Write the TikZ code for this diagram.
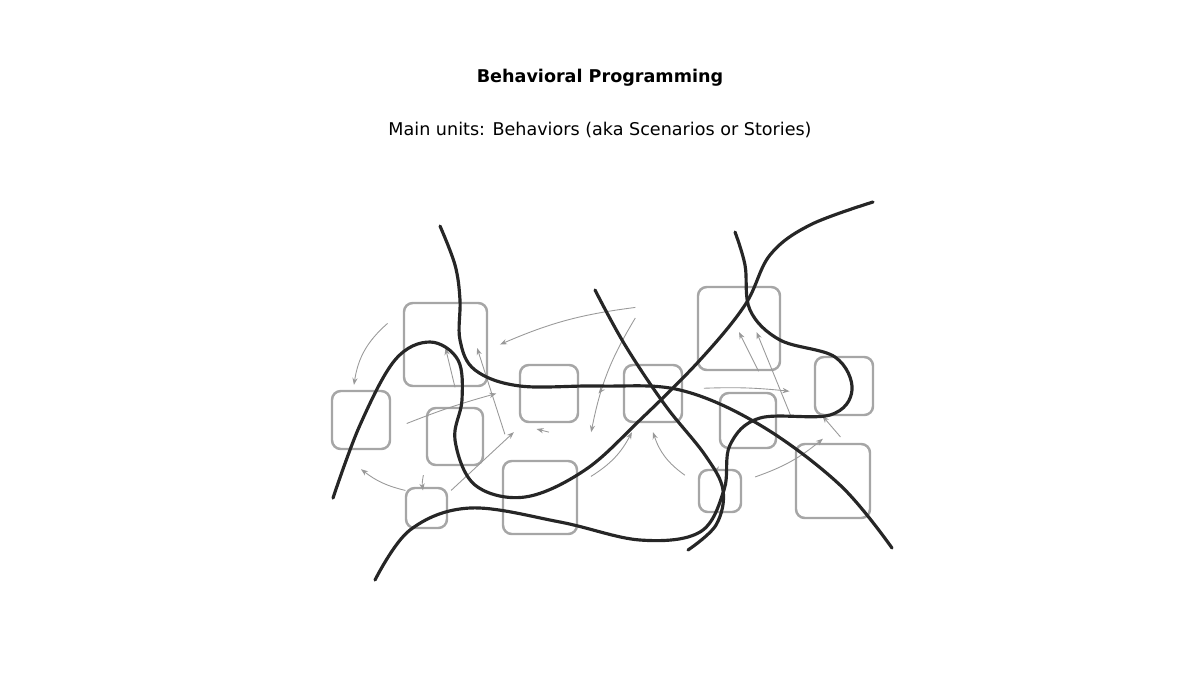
\documentclass[tikz,border=0pt]{standalone}
\usepackage{fontspec}
\setmainfont{DejaVu Sans}
\usetikzlibrary{arrows.meta}
\tikzset{unit/.style = {draw=black!35, line width=1.4pt, rounded corners=5pt},
         link/.style = {draw=black!40, line width=0.5pt, -{Stealth[length=4pt,width=3pt]}},
         story/.style = {draw=black!85, line width=1.8pt, line cap=round}}

\begin{document}
\begin{tikzpicture}[x=0.02cm, y=-0.02cm]
    \useasboundingbox (0,0) rectangle (1200,674);
    \node (title) at (600,78) {\bfseries Behavioral Programming};
    \node (sub)   at (600,130) {Main units: Behaviors (aka Scenarios or Stories)};

    % behaviors
    \draw[unit] (404,303) rectangle (487,386) coordinate[pos=.5] (a);
    \draw[unit] (332,391) rectangle (390,449) coordinate[pos=.5] (b);
    \draw[unit] (427,408) rectangle (483,465) coordinate[pos=.5] (c);
    \draw[unit] (520,365) rectangle (578,422) coordinate[pos=.5] (d);
    \draw[unit] (406,488) rectangle (447,528) coordinate[pos=.5] (e);
    \draw[unit] (503,461) rectangle (577,534) coordinate[pos=.5] (f);
    \draw[unit] (624,365) rectangle (682,422) coordinate[pos=.5] (g);
    \draw[unit] (698,287) rectangle (780,370) coordinate[pos=.5] (h);
    \draw[unit] (720,393) rectangle (776,448) coordinate[pos=.5] (i);
    \draw[unit] (815,357) rectangle (873,415) coordinate[pos=.5] (j);
    \draw[unit] (699,470) rectangle (741,512) coordinate[pos=.5] (k);
    \draw[unit] (796,444) rectangle (870,518) coordinate[pos=.5] (l);

    % links
    \path[link] ([xshift=-59pt,yshift=12pt]h) to[bend right=8] ([xshift=31pt,yshift=0pt]a);
    \path[link] ([xshift=-59pt,yshift=6pt]h) to[bend right=10] ([xshift=24pt,yshift=-22pt]d);
    \path[link] ([xshift=26pt,yshift=-2pt]b) to[bend left=3] ([xshift=-30pt,yshift=0pt]d);
    \path[link] ([xshift=0pt,yshift=28pt]c) -- ([xshift=0pt,yshift=-2pt]a);
    \path[link] ([xshift=-18pt,yshift=-22pt]c) to[bend right=10] ([xshift=-2pt,yshift=10pt]e);
    \path[link] ([xshift=-12pt,yshift=10pt]e) to[bend left=12] ([xshift=0pt,yshift=-28pt]b);
    \path[link] ([xshift=-33pt,yshift=12pt]a) to[bend right=20] ([xshift=-4pt,yshift=20pt]b);
    \path[link] ([xshift=14pt,yshift=10pt]e) -- ([xshift=-20pt,yshift=-22pt]d);
    \path[link] ([xshift=-20pt,yshift=36pt]f) -- ([xshift=18pt,yshift=-2pt]a);
    \path[link] ([xshift=0pt,yshift=-22pt]d) -- ([xshift=-2pt,yshift=39pt]f);
    \path[link] ([xshift=29pt,yshift=1pt]d) -- ([xshift=-31pt,yshift=0pt]g);
    \path[link] ([xshift=29pt,yshift=12pt]f) to[bend right=15] ([xshift=-12pt,yshift=-22pt]g);
    \path[link] ([xshift=-20pt,yshift=9pt]k) to[bend left=18] ([xshift=0pt,yshift=-22pt]g);
    \path[link] ([xshift=29pt,yshift=3pt]g) to[bend left=4] ([xshift=-31pt,yshift=-3pt]j);
    \path[link] ([xshift=6pt,yshift=28pt]i) -- ([xshift=0pt,yshift=-2pt]h);
    \path[link] ([xshift=-24pt,yshift=37pt]l) -- ([xshift=10pt,yshift=-2pt]h);
    \path[link] ([xshift=-18pt,yshift=-28pt]i) -- ([xshift=-2pt,yshift=10pt]k);
    \path[link] ([xshift=20pt,yshift=8pt]k) to[bend right=10] ([xshift=-12pt,yshift=-30pt]j);
    \path[link] ([xshift=-2pt,yshift=-29pt]j) -- ([xshift=-6pt,yshift=37pt]l);

    % stories
    \draw[story] plot[smooth, tension=0.6] coordinates {(440,226) (455,265) (460,300) (460,340) (475,370) (520,386) (600,386) (680,390) (760,425) (840,485) (892,548)};
    \draw[story] plot[smooth, tension=0.6] coordinates {(333,498) (360,425) (395,360) (430,342) (458,360) (462,400) (455,440) (475,485) (525,497) (585,470) (640,420) (700,360) (745,305) (770,255) (810,225) (873,202)};
    \draw[story] plot[smooth, tension=0.6] coordinates {(375,580) (410,530) (470,508) (560,522) (640,540) (700,532) (724,490) (730,445) (760,418) (830,415) (852,390) (835,357) (780,340) (750,310) (745,265) (735,232)};
    \draw[story] plot[smooth, tension=0.6] coordinates {(595,290) (625,345) (665,405) (705,455) (723,490) (716,525) (688,550)};
\end{tikzpicture}
\end{document}
